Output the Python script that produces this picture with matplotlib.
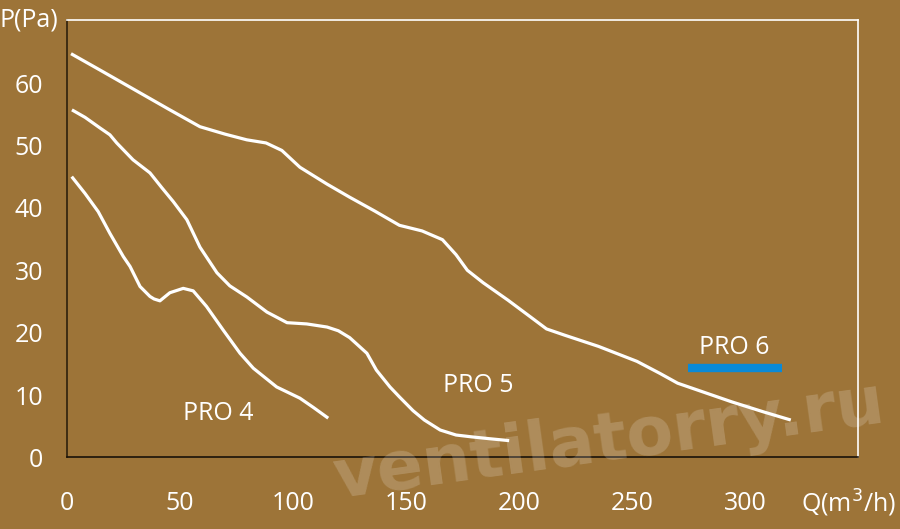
import matplotlib.pyplot as plt

# фон и цвета
bg = '#9d7438'
blue = '#0a8ad8'

# кривые P(Q) для PRO 4 / PRO 5 / PRO 6
q4 = [2.1, 8, 13.8, 19, 24.9, 27.9, 32.3, 36.7, 38.5, 41.1, 45.5, 51.4, 55.8, 61.7, 69.1, 76.5, 82.4, 92.7, 103, 109, 115.5]
p4 = [45.0, 42.3, 39.4, 35.9, 32.2, 30.6, 27.4, 25.8, 25.4, 25.1, 26.4, 27.1, 26.7, 24.2, 20.4, 16.7, 14.3, 11.3, 9.5, 8.0, 6.3]

q5 = [2.2, 8, 14.6, 19, 22, 29.2, 36.7, 42, 47, 53, 58.8, 66.3, 72, 79.6, 88.4, 97.3, 106, 115, 120, 125,
      132.6, 136.8, 142.8, 147, 153, 158, 165, 172, 179, 187, 195.5]
p5 = [55.7, 54.5, 52.8, 51.7, 50.4, 47.7, 45.6, 43.2, 41.0, 38.1, 33.7, 29.6, 27.5, 25.7, 23.3, 21.6, 21.4, 20.9, 20.3, 19.2,
      16.7, 14.0, 11.3, 9.7, 7.5, 6.0, 4.4, 3.6, 3.3, 3.0, 2.7]

q6 = [1.8, 15, 30, 45, 58.8, 70, 79.5, 88, 95, 103, 115, 125, 136, 147, 157, 166, 172, 177, 184, 195,
      205, 212, 220, 235, 252, 262, 270, 282, 294, 308, 320]
p6 = [64.7, 62.0, 58.9, 55.8, 53.0, 51.8, 50.9, 50.4, 49.2, 46.5, 43.8, 41.7, 39.5, 37.2, 36.3, 34.9, 32.5, 30.0, 28.0, 25.2,
      22.5, 20.6, 19.6, 17.8, 15.4, 13.5, 11.9, 10.4, 8.9, 7.3, 6.0]

xticks = [0, 50, 100, 150, 200, 250, 300]
yticks = [0, 10, 20, 30, 40, 50, 60]

plt.rcParams['font.family'] = ['Open Sans', 'DejaVu Sans']

fig = plt.figure(figsize=(9, 5.29), dpi=100, facecolor=bg)
ax = fig.add_axes([0.0744, 0.1352, 0.8789, 0.827])
ax.set_facecolor(bg)

for q, p in [(q4, p4), (q5, p5), (q6, p6)]:
    ax.plot(q, p, color='white', lw=2.3, solid_capstyle='butt', solid_joinstyle='round', zorder=3)

ax.text(67, 7.1, 'PRO 4', color='white', fontsize=18, ha='center', va='center')
ax.text(182, 11.5, 'PRO 5', color='white', fontsize=18, ha='center', va='center')
ax.text(295, 17.7, 'PRO 6', color='white', fontsize=18, ha='center', va='center')
ax.plot([274.5, 316], [14.4, 14.4], color=blue, lw=6, solid_capstyle='butt')

ax.set_xlim(0, 349.7)
ax.set_ylim(0, 70.1)
ax.set_xticks(xticks)
ax.set_yticks(yticks)
ax.tick_params(length=0, labelsize=18, labelcolor='white')
ax.tick_params(axis='x', pad=24)
ax.tick_params(axis='y', pad=17)

ax.spines['left'].set_color('#2e210c')
ax.spines['bottom'].set_color('#1a1208')
ax.spines['top'].set_color('white')
ax.spines['right'].set_color('white')
for s in ax.spines.values():
    s.set_linewidth(1.2)
    s.set_zorder(4)

fig.text(28.5 / 900, 1 - 20 / 529, 'P(Pa)', color='white', fontsize=18, ha='center', va='center')
fig.text(849 / 900, 1 - 503 / 529, 'Q(m$^3$/h)', color='white', fontsize=18, ha='center', va='center')

# водяной знак
fig.text(612 / 900, 1 - 460 / 529, 'ventilatorry.ru', family='DejaVu Sans', fontweight='bold',
         fontsize=49, color='white', alpha=0.18, rotation=7.9, rotation_mode='anchor',
         ha='center', va='baseline', zorder=1)

plt.savefig('out.png', dpi=100, facecolor=bg)
